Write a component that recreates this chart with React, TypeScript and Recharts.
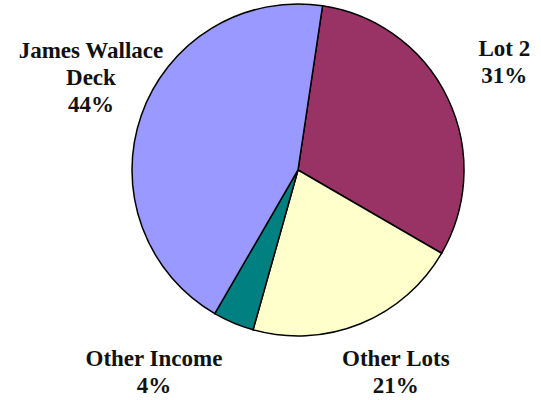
import { PieChart, Pie, Cell } from 'recharts';

const categories = ["Lot 2", "Other Lots", "Other Income", "James Wallace Deck"]
const shares = [31, 21, 4, 44]
const labelLines = [["Lot 2"], ["Other Lots"], ["Other Income"], ["James Wallace", "Deck"]]

const COLORS = ["#993366", "#FFFFCC", "#008080", "#9999FF"]
// nudges so the labels sit where the original put them (angle deg, radius px)
const LABEL_NUDGE = [
  { da: 2, r: 233 },
  { da: 3.8, r: 224 },
  { da: -12.6, r: 248 },
  { da: -4.9, r: 227 },
]

const pieData = categories.map((name, i) => ({ name, value: shares[i] }))

const RAD = Math.PI / 180

function renderLabel(props: any) {
  const { cx, cy, midAngle, index, percent } = props
  const nudge = LABEL_NUDGE[index]
  const a = (midAngle + nudge.da) * RAD
  const x = cx + nudge.r * Math.cos(a)
  const y = cy - nudge.r * Math.sin(a)
  const lines = [...labelLines[index], `${Math.round(percent * 100)}%`]
  const lh = 27
  const top = y - ((lines.length - 1) * lh) / 2
  return (
    <text
      x={x}
      y={top}
      textAnchor="middle"
      dominantBaseline="central"
      fill="#111"
      fontFamily="'Liberation Serif', 'Times New Roman', serif"
      fontWeight="bold"
      fontSize={23}
    >
      {lines.map((l, i) => (
        <tspan key={i} x={x} y={top + i * lh}>{l}</tspan>
      ))}
    </text>
  )
}

export default function App() {
  return (
    <div style={{ position: 'absolute', left: 0, top: 0, width: 541, height: 400, background: '#fff' }}>
      <PieChart width={541} height={400} margin={{ top: 0, right: 0, bottom: 0, left: 0 }}>
        <Pie
          data={pieData}
          dataKey="value"
          nameKey="name"
          cx={298}
          cy={170}
          outerRadius={166}
          startAngle={81.5}
          endAngle={-278.5}
          stroke="#000"
          strokeWidth={1.5}
          label={renderLabel}
          labelLine={false}
          isAnimationActive={false}
        >
          {pieData.map((_, index) => (
            <Cell key={index} fill={COLORS[index % COLORS.length]} />
          ))}
        </Pie>
      </PieChart>
    </div>
  )
}
